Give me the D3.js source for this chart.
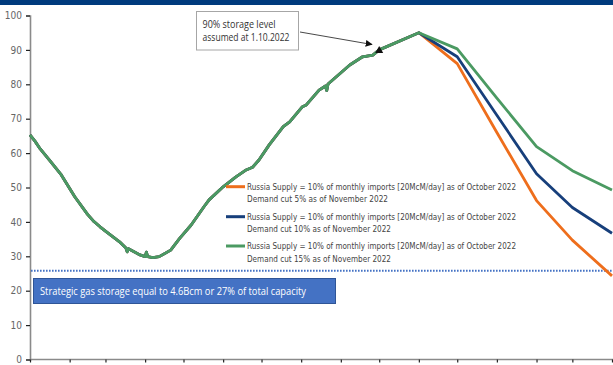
<!DOCTYPE html>
<html>
<head>
<meta charset="utf-8">
<script src="https://cdn.jsdelivr.net/npm/d3@7"></script>
<style>
  html, body { margin: 0; padding: 0; background: #fff; }
  svg { display: block; }
</style>
</head>
<body>
<svg id="chart" width="613" height="365"></svg>
<script>
// Storage level (% of capacity), observed history up to the 90% target on 1 Oct and the 1 Nov peak
const historyDates = [
  "2022-01-01","2022-01-05","2022-01-09","2022-01-17","2022-01-25","2022-02-05","2022-02-15",
  "2022-02-20","2022-02-25","2022-03-01","2022-03-12","2022-03-17","2022-03-18","2022-03-19",
  "2022-03-28","2022-04-01","2022-04-02","2022-04-03","2022-04-07","2022-04-12","2022-04-21",
  "2022-04-28","2022-05-07","2022-05-17","2022-05-21","2022-06-01","2022-06-11","2022-06-19",
  "2022-06-24","2022-06-29","2022-07-07","2022-07-18","2022-07-23","2022-08-02","2022-08-05",
  "2022-08-15","2022-08-20","2022-08-21","2022-08-22","2022-09-08","2022-09-18","2022-09-26",
  "2022-10-01","2022-11-01"
];
const historyValues = [
  65.3, 63.4, 61.2, 57.6, 53.9, 47.3, 42.2,
  40.1, 38.5, 37.3, 34.2, 32.4, 31.3, 32.2,
  30.4, 29.9, 31.2, 29.9, 29.6, 29.9, 31.8,
  35.2, 39.1, 44.4, 46.4, 50.2, 53.1, 55.1,
  55.9, 58.0, 62.4, 67.7, 69.1, 73.5, 74.0,
  78.3, 79.5, 78.2, 80.1, 85.6, 88.0, 88.5,
  90.0, 95.0
];

// Monthly outlook after the 1 Nov peak
const scenarioDates = ["2022-12-01","2023-01-01","2023-02-01","2023-03-01","2023-04-01"];
const cut5Values  = [86.0, 66.0, 46.2, 34.7, 24.3];
const cut10Values = [88.0, 71.0, 54.0, 44.2, 36.7];
const cut15Values = [90.3, 76.0, 61.9, 54.9, 49.3];

const supplyLabel = "Russia Supply = 10% of monthly imports [20McM/day] as of October 2022";
const seriesNames = ["Demand cut 5% as of November 2022", "Demand cut 10% as of November 2022", "Demand cut 15% as of November 2022"];
const seriesColors = ["#EE6E1C", "#173F7B", "#4B9A62"];

const yTicks = [0, 10, 20, 30, 40, 50, 60, 70, 80, 90, 100];
const strategicLevel = 25.8;
const strategicText = "Strategic gas storage equal to 4.6Bcm or 27% of total capacity";
const noteLines = ["90% storage level", "assumed at 1.10.2022"];
const noteDate = "2022-10-01";

const parse = d3.timeParse("%Y-%m-%d");
const history = historyDates.map((d, i) => ({ date: parse(d), value: historyValues[i] }));
const scenarios = [cut5Values, cut10Values, cut15Values].map(vals =>
  history.concat(scenarioDates.map((d, i) => ({ date: parse(d), value: vals[i] })))
);

const svg = d3.select("#chart");
const W = 613, H = 365;

const x = d3.scaleTime()
  .domain([parse("2022-01-01"), parse("2023-04-01")])
  .range([30, 612]);
const y = d3.scaleLinear().domain([0, 100]).range([359.5, 15.5]);

// header band
svg.append("rect").attr("x", 0).attr("y", 0).attr("width", W).attr("height", 5).attr("fill", "#003B7D");

// y axis
const yAxis = svg.append("g").attr("transform", "translate(30,0)")
  .call(d3.axisLeft(y).tickValues(yTicks).tickSize(4).tickPadding(4).tickFormat(d3.format("d")));
yAxis.select(".domain").attr("stroke", "#8a8a8a").attr("stroke-width", 1.6);
yAxis.selectAll(".tick line").attr("stroke", "#222").attr("stroke-width", 1.2);
yAxis.selectAll(".tick text")
  .attr("fill", "#666")
  .style("font-family", "'Liberation Sans Narrow', 'DejaVu Sans Condensed', sans-serif")
  .style("font-size", "10px");

// x axis (monthly ticks, no labels)
const xAxis = svg.append("g").attr("transform", `translate(0,${y(0)})`)
  .call(d3.axisBottom(x).ticks(d3.timeMonth.every(1)).tickSize(3).tickFormat(""));
xAxis.select(".domain").attr("stroke", "#8a8a8a").attr("stroke-width", 1.6)
  .attr("d", `M30,0H${W}`);
xAxis.selectAll(".tick line").attr("stroke", "#222").attr("stroke-width", 1.2);

// strategic storage threshold
svg.append("line")
  .attr("x1", 31).attr("x2", W)
  .attr("y1", y(strategicLevel)).attr("y2", y(strategicLevel))
  .attr("stroke", "#4472C4").attr("stroke-width", 2).attr("stroke-dasharray", "1.6,1.4");

// scenario lines
const line = d3.line().x(d => x(d.date)).y(d => y(d.value));
scenarios.forEach((s, i) => {
  svg.append("path").datum(s)
    .attr("fill", "none")
    .attr("stroke", seriesColors[i])
    .attr("stroke-width", 2.8)
    .attr("stroke-linejoin", "round")
    .attr("d", line);
});

// marker at the 90% target date
const notePoint = history.find(d => +d.date === +parse(noteDate));
const mx = x(notePoint.date), my = y(notePoint.value);
svg.append("path")
  .attr("d", `M${mx},${my - 4}L${mx + 4},${my + 3}L${mx - 4},${my + 3}Z`)
  .attr("fill", "#111");

// legend
const legend = svg.append("g");
const rowY = [186.7, 216.7, 246];
seriesNames.forEach((name, i) => {
  legend.append("line")
    .attr("x1", 226).attr("x2", 245)
    .attr("y1", rowY[i]).attr("y2", rowY[i])
    .attr("stroke", seriesColors[i]).attr("stroke-width", 3);
  legend.append("text")
    .attr("x", 247).attr("y", rowY[i] + 3)
    .attr("textLength", 269).attr("lengthAdjust", "spacingAndGlyphs")
    .attr("fill", "#444")
    .style("font-family", "'DejaVu Sans', sans-serif").style("font-size", "8.4px")
    .text(supplyLabel);
  legend.append("text")
    .attr("x", 247).attr("y", rowY[i] + 15.5)
    .attr("textLength", i === 0 ? 141 : 144).attr("lengthAdjust", "spacingAndGlyphs")
    .attr("fill", "#444")
    .style("font-family", "'DejaVu Sans', sans-serif").style("font-size", "8.4px")
    .text(name);
});

// strategic storage label box
svg.append("rect")
  .attr("x", 33.5).attr("y", 278.5).attr("width", 302).attr("height", 25)
  .attr("fill", "#4472C4").attr("stroke", "#2F5597").attr("stroke-width", 1);
svg.append("text")
  .attr("x", 40).attr("y", 295)
  .attr("textLength", 266).attr("lengthAdjust", "spacingAndGlyphs")
  .attr("fill", "#fff")
  .style("font-family", "'Open Sans', sans-serif").style("font-size", "11.5px")
  .text(strategicText);

// annotation callout
svg.append("rect")
  .attr("x", 196.5).attr("y", 11.5).attr("width", 102).attr("height", 38.5)
  .attr("fill", "#fff").attr("stroke", "#a6a6a6").attr("stroke-width", 1);
noteLines.forEach((t, i) => {
  svg.append("text")
    .attr("x", 202.5).attr("y", 27.5 + i * 13.3)
    .attr("textLength", i === 0 ? 73 : 87).attr("lengthAdjust", "spacingAndGlyphs")
    .attr("fill", "#333")
    .style("font-family", "'Open Sans', sans-serif").style("font-size", "10.5px")
    .text(t);
});
svg.append("defs").append("marker")
  .attr("id", "arrowhead").attr("viewBox", "0 0 10 10")
  .attr("refX", 9).attr("refY", 5)
  .attr("markerWidth", 7).attr("markerHeight", 7)
  .attr("markerUnits", "userSpaceOnUse")
  .attr("orient", "auto")
  .append("path").attr("d", "M0,0L10,5L0,10Z").attr("fill", "#111");
svg.append("line")
  .attr("x1", 300).attr("y1", 32)
  .attr("x2", 372).attr("y2", 44.5)
  .attr("stroke", "#333").attr("stroke-width", 0.9)
  .attr("marker-end", "url(#arrowhead)");
</script>
</body>
</html>
